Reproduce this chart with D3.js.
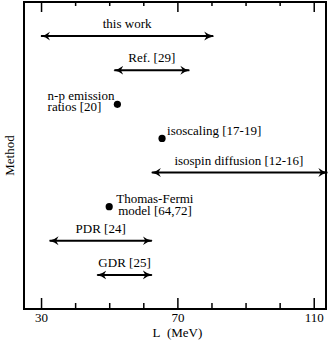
<!DOCTYPE html>
<html>
<head>
<meta charset="utf-8">
<script src="https://cdn.jsdelivr.net/npm/d3@7"></script>
<style>
  body { margin: 0; background: #fff; }
</style>
</head>
<body>
<div id="chart"></div>
<script>
var svgWidth = 332;
var svgHeight = 340;
var fontFamily = "Liberation Serif";
var fontSize = 13;

var margin = { top: 2, right: 6, bottom: 31, left: 24 };
var width = svgWidth - margin.left - margin.right;
var height = svgHeight - margin.top - margin.bottom;

// Methods, top to bottom
var methods = ["this work", "Ref. [29]", "n-p emission", "isoscaling",
    "isospin diffusion", "Thomas-Fermi", "PDR", "GDR"];

// Range estimates of L (MeV)
var rangeMethods = ["this work", "Ref. [29]", "isospin diffusion", "PDR", "GDR"];
var rangeLabels = ["this work", "Ref. [29]", "isospin diffusion [12-16]", "PDR [24]", "GDR [25]"];
var rangeLow = [30, 51.5, 62.5, 32.5, 46.5];
var rangeHigh = [80.5, 73.5, 114, 62.5, 62.5];

// Single values of L (MeV)
var pointMethods = ["n-p emission", "isoscaling", "Thomas-Fermi"];
var pointValues = [52.4, 65.5, 50];

var majorTicks = [30, 70, 110];
var minorTicks = [40, 50, 60, 80, 90, 100];

var svg = d3.select("#chart")
    .append("svg")
    .attr("width", svgWidth)
    .attr("height", svgHeight);

var chartGroup = svg.append("g")
    .attr("transform", `translate(${margin.left}, ${margin.top})`);

var xScale = d3.scaleLinear()
    .domain([25, 113.6])
    .range([0, width]);

var yScale = d3.scalePoint()
    .domain(methods)
    .range([0, height])
    .padding(1);

// arrowhead markers
var defs = svg.append("defs");
["start", "end"].forEach(function(side) {
    defs.append("marker")
        .attr("id", "arrow-" + side)
        .attr("viewBox", "0 -5 10 10")
        .attr("refX", 9)
        .attr("refY", 0)
        .attr("markerUnits", "userSpaceOnUse")
        .attr("markerWidth", 10)
        .attr("markerHeight", 10)
        .attr("orient", side === "end" ? "auto" : "auto-start-reverse")
        .append("path")
        .attr("d", "M0,-4.5 Q4,-1 10,0 Q4,1 0,4.5 L2.5,0 Z")
        .attr("fill", "#000");
});

// axes: ticks inward on top and bottom
var bottomMajor = d3.axisBottom(xScale).tickValues(majorTicks).tickSizeInner(-11).tickSizeOuter(0).tickPadding(4);
var bottomMinor = d3.axisBottom(xScale).tickValues(minorTicks).tickSizeInner(-6).tickSizeOuter(0).tickFormat("");
var topMajor = d3.axisTop(xScale).tickValues(majorTicks).tickSizeInner(-10).tickSizeOuter(0).tickFormat("");
var topMinor = d3.axisTop(xScale).tickValues(minorTicks).tickSizeInner(-4).tickSizeOuter(0).tickFormat("");

[bottomMajor, bottomMinor].forEach(function(ax) {
    chartGroup.append("g")
        .attr("transform", `translate(0, ${height})`)
        .call(ax);
});
[topMajor, topMinor].forEach(function(ax) {
    chartGroup.append("g").call(ax);
});

chartGroup.selectAll(".domain").remove();
chartGroup.selectAll(".tick line").attr("stroke", "#000").attr("stroke-width", 1.5);
chartGroup.selectAll(".tick text")
    .attr("fill", "#000")
    .attr("font-family", fontFamily)
    .attr("font-size", fontSize);

// frame
chartGroup.append("rect")
    .attr("x", 0)
    .attr("y", 0)
    .attr("width", width)
    .attr("height", height)
    .attr("fill", "none")
    .attr("stroke", "#000")
    .attr("stroke-width", 2);

// ranges
chartGroup.selectAll(".range")
    .data(rangeMethods)
    .enter()
    .append("line")
    .attr("class", "range")
    .attr("x1", (d, i) => xScale(rangeLow[i]))
    .attr("x2", (d, i) => xScale(rangeHigh[i]))
    .attr("y1", d => yScale(d))
    .attr("y2", d => yScale(d))
    .attr("stroke", "#000")
    .attr("stroke-width", 2)
    .attr("marker-start", "url(#arrow-start)")
    .attr("marker-end", "url(#arrow-end)");

// points
chartGroup.selectAll(".pt")
    .data(pointMethods)
    .enter()
    .append("circle")
    .attr("class", "pt")
    .attr("cx", (d, i) => xScale(pointValues[i]))
    .attr("cy", d => yScale(d))
    .attr("r", 3.6)
    .attr("fill", "#000");

// labels for ranges, centred above each arrow
chartGroup.selectAll(".rlabel")
    .data(rangeMethods)
    .enter()
    .append("text")
    .attr("class", "rlabel")
    .attr("x", (d, i) => xScale((rangeLow[i] + Math.min(rangeHigh[i], 113.6)) / 2))
    .attr("y", d => yScale(d) - 8)
    .attr("text-anchor", "middle")
    .attr("font-family", fontFamily)
    .attr("font-size", fontSize)
    .text((d, i) => rangeLabels[i]);

// labels for points
var pointLabels = {
    "n-p emission": { lines: ["n-p emission", "ratios [20]"], dx: [-3, -16], dy: [-4, 7], anchor: "end" },
    "isoscaling": { lines: ["isoscaling [17-19]"], dx: [5], dy: [-3], anchor: "start" },
    "Thomas-Fermi": { lines: ["Thomas-Fermi", "model [64,72]"], dx: [7, 9], dy: [-4, 8], anchor: "start" }
};

pointMethods.forEach(function(m, i) {
    var lab = pointLabels[m];
    lab.lines.forEach(function(line, j) {
        chartGroup.append("text")
            .attr("x", xScale(pointValues[i]) + lab.dx[j])
            .attr("y", yScale(m) + lab.dy[j])
            .attr("text-anchor", lab.anchor)
            .attr("font-family", fontFamily)
            .attr("font-size", fontSize)
            .text(line);
    });
});

// axis titles
svg.append("text")
    .attr("x", margin.left + xScale(70))
    .attr("y", 337)
    .attr("text-anchor", "middle")
    .attr("font-family", fontFamily)
    .attr("font-size", fontSize)
    .text("L\u00a0\u00a0(MeV)");

svg.append("text")
    .attr("transform", `translate(14, ${margin.top + height / 2}) rotate(-90)`)
    .attr("text-anchor", "middle")
    .attr("font-family", fontFamily)
    .attr("font-size", fontSize)
    .text("Method");
</script>
</body>
</html>
